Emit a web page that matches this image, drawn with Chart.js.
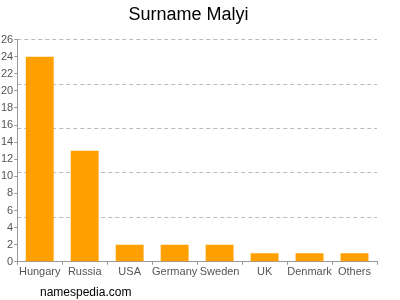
<!DOCTYPE html>
<html>
<head>
<meta charset="utf-8">
<script src="https://cdn.jsdelivr.net/npm/chart.js@4/dist/chart.umd.min.js"></script>
<style>
    html, body { margin: 0; padding: 0; background: #fff; }
    #wrap { position: relative; width: 400px; height: 300px; }
    #footer {
        position: absolute; left: 40px; top: 285px;
        font-family: 'Liberation Sans', Arial, sans-serif;
        font-size: 12px; color: #000;
    }
</style>
</head>
<body>
<div id="wrap">
    <canvas id="myChart" width="400" height="300"></canvas>
    <div id="footer">namespedia.com</div>
</div>
<script>
const countries = ['Hungary', 'Russia', 'USA', 'Germany', 'Sweden', 'UK', 'Denmark', 'Others'];
const counts = [24, 13, 2, 2, 2, 1, 1, 1];
const yMax = 26;
const yStep = 2;
const gridStep = 5.2;   // 破線のグリッドは5分割

document.addEventListener("DOMContentLoaded", function() {
    const ctx = document.getElementById('myChart').getContext('2d');
    Chart.defaults.font.family = "'Liberation Sans', Arial, sans-serif";

    const data = {
        labels: countries,
        datasets: [
            {
                label: 'Malyi',
                backgroundColor: '#ff9f00',
                borderWidth: 0,
                data: counts,
                barPercentage: 0.62,
                categoryPercentage: 1.0,
            }
        ]
    };

    const config = {
        type: 'bar',
        data: data,
        options: {
            responsive: false,
            animation: false,
            layout: {
                padding: { left: 0, right: 23, top: 0, bottom: 20 }
            },
            scales: {
                x: {
                    grid: {
                        display: true,
                        drawOnChartArea: false,
                        drawTicks: true,
                        tickLength: 3,
                        color: '#999',
                    },
                    border: {
                        display: true,
                        color: '#999',
                        width: 1
                    },
                    ticks: {
                        color: '#555',
                        font: { size: 11 },
                        padding: 1,
                        maxRotation: 0,
                        autoSkip: false
                    }
                },
                y: {
                    min: 0,
                    max: yMax,
                    ticks: {
                        stepSize: yStep,
                        color: '#555',
                        font: { size: 11 },
                        padding: 1
                    },
                    grid: {
                        drawOnChartArea: false,
                        drawTicks: true,
                        tickLength: 3,
                        color: '#999',
                    },
                    border: {
                        display: true,
                        color: '#999',
                        width: 1
                    }
                },
                yGrid: {
                    position: 'right',
                    min: 0,
                    max: yMax,
                    display: true,
                    afterBuildTicks: function(axis) {
                        const t = [];
                        for (let v = gridStep; v <= yMax + 0.001; v += gridStep) t.push({ value: v });
                        axis.ticks = t;
                    },
                    ticks: { display: false },
                    grid: {
                        drawTicks: false,
                        color: '#bbb',
                        lineWidth: 1
                    },
                    border: { display: false, dash: [4, 3] },
                    afterFit: function(axis) { axis.width = 0; }
                }
            },
            plugins: {
                title: {
                    display: true,
                    text: 'Surname Malyi',
                    color: '#000',
                    font: { size: 18, weight: 'normal' },
                    padding: { top: 4, bottom: 14 }
                },
                legend: { display: false },
                tooltip: { enabled: false }
            }
        }
    };

    const myChart = new Chart(ctx, config);
});
</script>
</body>
</html>
